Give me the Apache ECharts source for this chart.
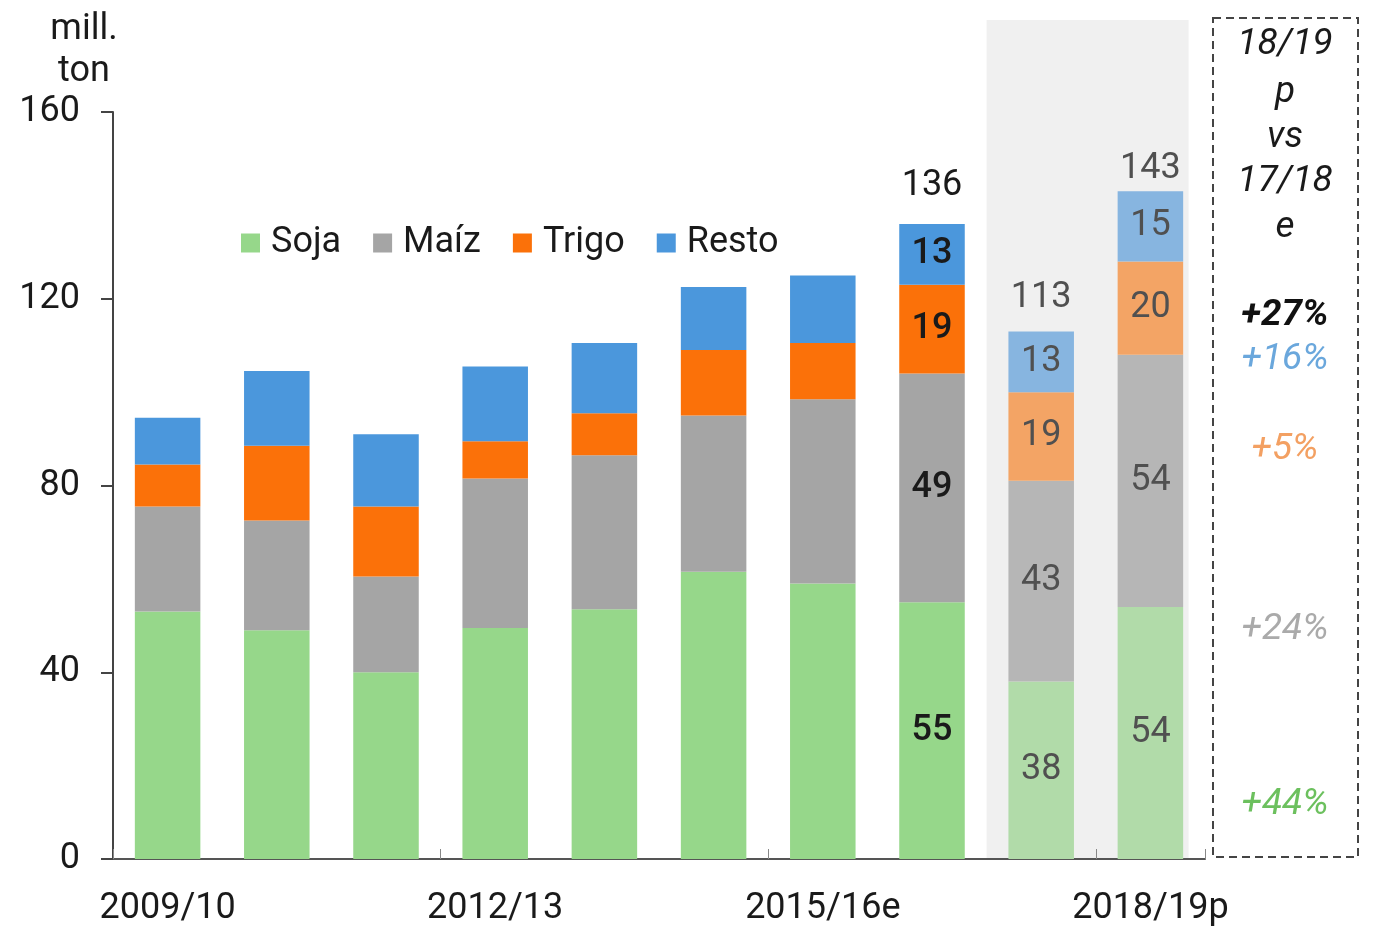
<!DOCTYPE html>
<html><head><meta charset="utf-8">
<script src="https://cdn.jsdelivr.net/npm/echarts@6/dist/echarts.min.js"></script>
<style>html,body{margin:0;padding:0;background:#fff}#c{width:1386px;height:927px}</style>
</head><body><div id="c"></div>
<script>
const categories = ['2009/10','2010/11','2011/12','2012/13','2013/14','2014/15','2015/16e','2016/17e','2017/18e','2018/19p'];
const soja  = [53, 49, 40, 49.5, 53.5, 61.5, 59, 55, 38, 54];
const maiz  = [22.5, 23.5, 20.5, 32, 33, 33.5, 39.5, 49, 43, 54];
const trigo = [9, 16, 15, 8, 9, 14, 12, 19, 19, 20];
const resto = [10, 16, 15.5, 16, 15, 13.5, 14.5, 13, 13, 15];
const totals = [null, null, null, null, null, null, null, 136, 113, 143];
const labelledIdx = [7, 8, 9];
const projectedIdx = [8, 9];
const yTicks = [0, 40, 80, 120, 160];
const compareTitle = ['18/19', 'p', 'vs', '17/18', 'e'];
const changeLabels = ['+27%', '+16%', '+5%', '+24%', '+44%'];

const FONT = 'Roboto, "Noto Sans", sans-serif';
const FS = 36;
const totalLabelGap = {7: 20, 8: 15, 9: 4};
const seriesDefs = [
  {name: 'Soja',  data: soja,  color: '#96d78a', light: '#b1dba9'},
  {name: 'Maíz',  data: maiz,  color: '#a5a5a5', light: '#b6b6b6'},
  {name: 'Trigo', data: trigo, color: '#fb7109', light: '#f3a465'},
  {name: 'Resto', data: resto, color: '#4b97dc', light: '#87b5e0'}
];

const series = seriesDefs.map((s, si) => ({
  name: s.name,
  type: 'bar',
  stack: 'total',
  barWidth: '60%',
  itemStyle: {color: s.color},
  data: s.data.map((v, i) => {
    const proj = projectedIdx.includes(i);
    const item = {value: v};
    if (proj) item.itemStyle = {color: s.light};
    if (labelledIdx.includes(i)) {
      item.label = {
        show: true, position: 'inside',
        formatter: String(Math.round(v)),
        fontSize: FS, fontFamily: FONT,
        color: proj ? '#505050' : '#1a1a1a',
        fontWeight: proj ? 'normal' : 500
      };
    }
    return item;
  })
}));

// totals as label on top of last stack
series.push({
  name: 'total', type: 'bar', stack: 'total', barWidth: '60%',
  silent: true, legendHoverLink: false,
  itemStyle: {color: 'transparent'},
  data: totals.map((t, i) => ({value: 0, label: t == null ? {show: false} : {
    show: true, position: 'top', distance: totalLabelGap[i], formatter: String(t),
    fontSize: FS, fontFamily: FONT, color: t === 136 ? '#1a1a1a' : '#505050'
  }}))
});

const chart = echarts.init(document.getElementById('c'));
const option = {
  animation: false,
  backgroundColor: '#fff',
  grid: {left: 113, right: 181, top: 112, bottom: 67, containLabel: false},
  legend: {
    data: ['Soja', 'Maíz', 'Trigo', 'Resto'],
    left: 236, top: 220, itemWidth: 19, itemHeight: 19, itemGap: 32,
    icon: 'rect',
    textStyle: {fontSize: FS, fontFamily: FONT, color: '#1a1a1a', padding: [0, 0, 0, 6]}
  },
  xAxis: {
    type: 'category', data: categories,
    axisLine: {lineStyle: {color: '#555', width: 2}},
    axisTick: {show: true, interval: 2, length: -10, lineStyle: {color: '#888'}},
    axisLabel: {interval: 2, margin: 32, fontSize: FS, fontFamily: FONT, color: '#1a1a1a'}
  },
  yAxis: {
    type: 'value', min: 0, max: 160, interval: 40,
    axisLine: {show: true, lineStyle: {color: '#444', width: 2}},
    axisTick: {show: true, length: 12, lineStyle: {color: '#444', width: 2}},
    splitLine: {show: false},
    axisLabel: {margin: 33, fontSize: FS, fontFamily: FONT, color: '#1a1a1a',
      formatter: v => yTicks.includes(v) ? String(v) : ''}
  },
  series: series
};
chart.setOption(option);

// decorations: shaded projection area, y-axis unit, comparison box
const p8 = chart.convertToPixel({xAxisIndex: 0}, categories[8]);
const p9 = chart.convertToPixel({xAxisIndex: 0}, categories[9]);
const y0 = chart.convertToPixel({yAxisIndex: 0}, 0);
const band = p9 - p8;
const graphics = [
  {type: 'rect', z: -10, shape: {x: p8 - band / 2, y: 20, width: band * 1.85, height: y0 - 20},
   style: {fill: '#f0f0f0'}},
  {type: 'text', x: 84, y: 30, style: {text: 'mill.', fontSize: FS, fontFamily: FONT, fill: '#1a1a1a', align: 'center', verticalAlign: 'middle'}},
  {type: 'text', x: 84, y: 72, style: {text: 'ton', fontSize: FS, fontFamily: FONT, fill: '#1a1a1a', align: 'center', verticalAlign: 'middle'}},
  {type: 'rect', shape: {x: 1213, y: 18, width: 145, height: 839},
   style: {fill: 'none', stroke: '#444', lineWidth: 2, lineDash: [8, 5]}}
];
const titleY = [45, 93, 138, 182, 228];
compareTitle.forEach((t, i) => graphics.push({
  type: 'text', x: 1285, y: titleY[i],
  style: {text: t, fontSize: 37, fontStyle: 'italic', fontFamily: FONT, fill: '#1a1a1a',
    align: 'center', verticalAlign: 'middle'}
}));
const changeY = [316, 360, 450, 630, 805];
const changeColors = ['#111', '#6aa7dc', '#f3a062', '#aaaaaa', '#6cc05e'];
changeLabels.forEach((t, i) => graphics.push({
  type: 'text', x: 1285, y: changeY[i],
  style: {text: t, fontSize: 37, fontStyle: 'italic', fontWeight: i === 0 ? 'bold' : 'normal',
    fontFamily: FONT, fill: changeColors[i], align: 'center', verticalAlign: 'middle'}
}));
chart.setOption({graphic: graphics});
</script>
</body></html>
